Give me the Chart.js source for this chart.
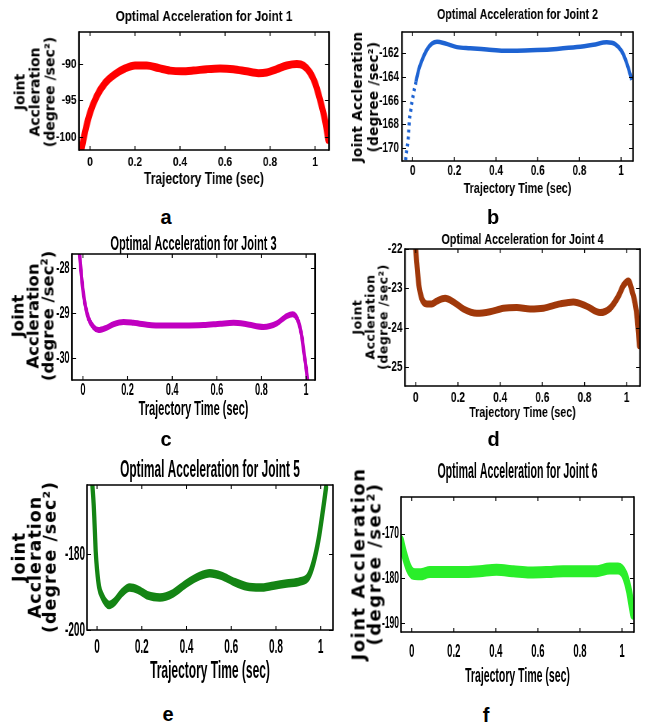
<!DOCTYPE html>
<html><head><meta charset="utf-8">
<script src="https://cdn.jsdelivr.net/npm/chart.js@4.4.1/dist/chart.umd.min.js"></script>
<style>
html,body{margin:0;padding:0;background:#fff;overflow:hidden;}
#page{position:relative;width:648px;height:727px;overflow:hidden;background:#fff;}
#page canvas{position:absolute;}
.lbl{position:absolute;font-family:"Liberation Sans",Arial,sans-serif;font-weight:bold;font-size:20px;line-height:20px;transform:translateX(-50%);color:#000;white-space:nowrap;}
.ytl{position:absolute;font-family:"DejaVu Sans",Verdana,sans-serif;font-weight:bold;color:#000;white-space:nowrap;text-align:center;transform:translate(-50%,-50%) rotate(-90deg);}
.ytl div{display:block;}
</style></head><body><div id="page"></div>
<script>
// ---------- data ----------
const tJ1 = [-0.037,-0.022,0,0.03,0.067,0.111,0.156,0.2,0.252,0.304,0.356,0.407,0.459,0.519,0.578,0.637,0.696,0.748,0.785,0.83,0.874,0.919,0.948,0.978,1.0,1.022,1.044,1.059];
const accJ1 = [-101.6,-99.3,-96.7,-94.4,-92.6,-91.4,-90.6,-90.2,-90.2,-90.55,-90.9,-91.0,-90.9,-90.7,-90.6,-90.7,-91.0,-91.25,-91.15,-90.7,-90.2,-90.0,-90.2,-91.2,-92.6,-94.9,-97.7,-100.4];

const tJ2 = [-0.034,-0.027,-0.022,-0.019,-0.014,-0.008,-0.003,0.003,0.010,0.016,0.029,0.045,0.069,0.093,0.117,0.157,0.212,0.276,0.356,0.436,0.5,0.596,0.692,0.788,0.867,0.931,0.971,1.003,1.027,1.051];
const accJ2 = [-171.0,-170.0,-169.3,-168.6,-167.4,-166.7,-166.1,-165.5,-164.9,-164.4,-163.4,-162.6,-161.7,-161.2,-161.05,-161.2,-161.5,-161.6,-161.7,-161.8,-161.8,-161.75,-161.65,-161.5,-161.3,-161.1,-161.25,-161.85,-162.85,-164.25];

const tJ3 = [-0.015,-0.009,-0.001,0.010,0.025,0.048,0.070,0.1,0.137,0.182,0.227,0.287,0.361,0.451,0.540,0.615,0.675,0.734,0.809,0.869,0.913,0.940,0.966,0.981,0.991,1.003,1.006];
const accJ3 = [-27.68,-28.04,-28.44,-28.81,-29.11,-29.31,-29.37,-29.33,-29.24,-29.19,-29.21,-29.25,-29.27,-29.27,-29.26,-29.23,-29.21,-29.24,-29.30,-29.22,-29.06,-29.02,-29.19,-29.52,-29.89,-30.33,-30.48];

const tJ4 = [0,0.005,0.009,0.016,0.028,0.052,0.076,0.1,0.139,0.179,0.226,0.289,0.352,0.415,0.479,0.542,0.605,0.684,0.747,0.810,0.873,0.921,0.960,0.984,1.008,1.025,1.039,1.050,1.057,1.060];
const accJ4 = [-22.03,-22.36,-22.62,-22.96,-23.25,-23.39,-23.39,-23.32,-23.25,-23.34,-23.52,-23.63,-23.59,-23.50,-23.48,-23.52,-23.50,-23.39,-23.34,-23.45,-23.61,-23.50,-23.20,-22.93,-22.81,-23.06,-23.36,-23.78,-24.25,-24.45];

const tJ5 = [-0.021,-0.015,-0.010,-0.006,0,0.009,0.024,0.040,0.054,0.079,0.109,0.146,0.184,0.228,0.281,0.340,0.4,0.460,0.504,0.557,0.609,0.669,0.728,0.788,0.848,0.907,0.945,0.967,0.990,1.009,1.024];
const accJ5 = [-161.7,-167.0,-173.6,-179.3,-184.1,-188.6,-191.2,-192.8,-193.4,-192.5,-190.3,-188.8,-189.4,-190.9,-191.4,-190.3,-187.7,-185.7,-185.0,-185.7,-187.2,-188.5,-188.8,-188.3,-187.7,-187.2,-185.9,-182.4,-176.2,-168.8,-162.4];

const tJ6 = [-0.051,-0.036,-0.016,0.008,0.040,0.087,0.166,0.245,0.324,0.403,0.483,0.562,0.641,0.720,0.799,0.878,0.941,0.981,1.013,1.033,1.044,1.052];
const accJ6 = [-171.6,-174.5,-177.5,-179.0,-179.1,-178.6,-178.6,-178.6,-178.4,-178.1,-178.4,-178.7,-178.6,-178.4,-178.4,-178.4,-177.8,-177.8,-179.3,-182.7,-185.7,-187.9];

const panelTitles = ['Optimal Acceleration for Joint 1','Optimal Acceleration for Joint 2','Optimal Acceleration for Joint 3','Optimal Acceleration for Joint 4','Optimal Acceleration for Joint 5','Optimal Acceleration for Joint 6'];
const panelLetters = ['a','b','c','d','e','f'];
const xAxisTitle = 'Trajectory Time (sec)';
const yTitle3 = ['Joint','Accleration','(degree /sec\u00B2)'];
const yTitle2 = ['Joint Accleration','(degree /sec\u00B2)'];

const NF = '"Liberation Sans", Arial, sans-serif';

// ---------- frame + inward ticks (drawn from the chart's own scales) ----------
const frameTicks = {
  id:'frameTicks',
  afterDatasetsDraw(chart, args, opts){
    const k = opts.k || 1;
    const {ctx, chartArea:a, scales:{x, y}} = chart;
    ctx.save();
    ctx.strokeStyle='#000';
    const L=4;
    ctx.lineWidth=1/k;
    ctx.beginPath();
    x.ticks.forEach(t=>{const px=x.getPixelForValue(t.value);
      ctx.moveTo(px,a.bottom);ctx.lineTo(px,a.bottom-L);ctx.moveTo(px,a.top);ctx.lineTo(px,a.top+L);});
    ctx.stroke();
    ctx.lineWidth=1;
    ctx.beginPath();
    y.ticks.forEach(t=>{const py=Math.round(y.getPixelForValue(t.value))+0.5;
      ctx.moveTo(a.left,py);ctx.lineTo(a.left+L/k,py);ctx.moveTo(a.right,py);ctx.lineTo(a.right-L/k,py);});
    ctx.stroke();
    ctx.lineWidth=1.6;
    ctx.beginPath();
    ctx.moveTo(a.left,a.top);ctx.lineTo(a.right,a.top);
    ctx.moveTo(a.left,a.bottom);ctx.lineTo(a.right,a.bottom);
    ctx.stroke();
    ctx.lineWidth=1.6/k;
    ctx.beginPath();
    ctx.moveTo(a.left,a.top-0.8);ctx.lineTo(a.left,a.bottom+0.8);
    ctx.moveTo(a.right,a.top-0.8);ctx.lineTo(a.right,a.bottom+0.8);
    ctx.stroke();
    ctx.restore();
  }
};

const page=document.getElementById('page');

function makePanel(p){
  const k=p.k;
  const [L,T,R,B]=p.box;
  const yW=L-p.cLeft, titleH=T-p.cTop, xH=p.cBottom-B;
  const Wcss=(R-L)+2*yW, H=p.cBottom-p.cTop;
  const Wb=Math.round(Wcss/k);
  const yWb=yW/k;
  const cv=document.createElement('canvas');
  cv.width=Wb; cv.height=H;
  cv.style.left=p.cLeft+'px'; cv.style.top=p.cTop+'px';
  cv.style.width=Wcss+'px'; cv.style.height=H+'px';
  page.appendChild(cv);
  const tfs=p.titleFs, tlh=tfs;
  const tPadTop=p.titleY-p.cTop-tlh/2, tPadBot=titleH-tPadTop-tlh;
  const kfs=p.tickFs, klh=kfs*1.2;
  const xTickPad=p.tickY-B-klh/2;
  const xtfs=p.xTitleFs, xtlh=xtfs*1.2;
  const xTitlePad=p.cBottom-p.xTitleY-xtlh/2;
  new Chart(cv,{
    type:'line',
    data:{datasets:[{
      data:p.t.map((x,i)=>({x:x,y:p.v[i]})),
      borderColor:p.color, borderWidth:p.lw, pointRadius:0,
      cubicInterpolationMode:'monotone', borderCapStyle:p.cap||'round', borderJoinStyle:'round',
      fill:false, segment:p.segment||{}
    }]},
    options:{
      responsive:false, animation:false, devicePixelRatio:1,
      layout:{padding:0},
      events:[],
      plugins:{
        legend:{display:false}, tooltip:{enabled:false},
        frameTicks:{k:k},
        title:{display:true,text:p.title,color:'#000',
          font:{family:NF,size:tfs,weight:'bold',lineHeight:1},
          padding:{top:tPadTop,bottom:tPadBot}}
      },
      scales:{
        x:{type:'linear',min:p.xMin,max:p.xMax,
          afterFit:s=>{s.height=xH;},
          grid:{display:false,drawTicks:false},border:{display:false},
          ticks:{stepSize:0.2,includeBounds:false,autoSkip:false,maxRotation:0,padding:xTickPad,color:'#000',
            font:{family:NF,size:kfs,weight:'bold',lineHeight:1.2},
            callback:v=>String(Math.round(v*10)/10)},
          title:{display:true,text:xAxisTitle,color:'#000',
            font:{family:NF,size:xtfs,weight:'bold',lineHeight:1.2},
            padding:{top:0,bottom:xTitlePad}}
        },
        y:{type:'linear',position:'left',min:p.yMin,max:p.yMax,
          afterFit:s=>{s.width=yWb;},
          grid:{display:false,drawTicks:false},border:{display:false},
          ticks:{stepSize:p.yStep,includeBounds:false,autoSkip:false,padding:p.yTickPad/k,color:'#000',
            font:{family:NF,size:p.yTickFs||kfs,weight:'bold'},
            callback:v=>String(Math.round(v))}
        },
        yR:{type:'linear',position:'right',min:0,max:1,
          afterFit:s=>{s.width=yWb;},
          grid:{display:false,drawTicks:false},border:{display:false},
          ticks:{display:false}}
      }
    },
    plugins:[frameTicks]
  });
  const yt=document.createElement('div');
  yt.className='ytl';
  yt.style.fontSize=p.yTitleFs+'px';
  yt.style.lineHeight=p.yTitleLH+'px';
  yt.style.letterSpacing=(p.yTitleLS||0)+'px';
  p.yTitle.forEach(s=>{const ln=document.createElement('div');ln.textContent=s;yt.appendChild(ln);});
  yt.style.left=(p.yTitleX+(p.yTitle.length-1)*p.yTitleLH/2)+'px';
  yt.style.top=p.yTitleCY+'px';
  page.appendChild(yt);
  const d=document.createElement('div');
  d.className='lbl'; d.textContent=p.letter;
  d.style.left=p.letterX+'px'; d.style.top=(p.letterBase-16.9)+'px';
  page.appendChild(d);
}

const panels=[
  {title:panelTitles[0],letter:panelLetters[0],t:tJ1,v:accJ1,color:'#FF0000',lw:8,k:0.76,
   box:[79,32,329,150],cLeft:0,cTop:0,cBottom:192,xMin:-0.049,xMax:1.062,yMin:-101.8,yMax:-85.6,yStep:5,
   titleY:17,titleFs:15.4,tickY:162,tickFs:13.5,yTickPad:2.5,xTitleY:180,xTitleFs:15.8,
   yTitle:yTitle3,yTitleX:20,yTitleLH:15,yTitleFs:14,yTitleCY:92,letterX:166,letterBase:224},
  {title:panelTitles[1],letter:panelLetters[1],t:tJ2,v:accJ2,color:'#1E63D2',lw:4.5,k:0.71,cap:'butt',
   segment:{borderDash:c=>c.p1DataIndex<=9?[3,4]:undefined},
   box:[402,32,633,161],cLeft:340,cTop:0,cBottom:200,xMin:-0.051,xMax:1.057,yMin:-171.07,yMax:-160.23,yStep:2,
   titleY:15,titleFs:15,tickY:171.5,tickFs:14,yTickPad:3,xTitleY:189,xTitleFs:15.2,
   yTitle:yTitle2,yTitleX:357,yTitleLH:16,yTitleFs:13.5,yTitleLS:0.3,yTitleCY:97,letterX:493,letterBase:224},
  {title:panelTitles[2],letter:panelLetters[2],t:tJ3,v:accJ3,color:'#C000C0',lw:6,k:0.57,
   box:[72,254,315,380],cLeft:0,cTop:222,cBottom:425,xMin:-0.049,xMax:1.040,yMin:-30.48,yMax:-27.68,yStep:1,
   titleY:245,titleFs:19.3,tickY:391,tickFs:16,yTickPad:2.5,xTitleY:410,xTitleFs:19.3,
   yTitle:yTitle3,yTitleX:18,yTitleLH:15,yTitleFs:16.5,yTitleCY:316,letterX:166,letterBase:446},
  {title:panelTitles[3],letter:panelLetters[3],t:tJ4,v:accJ4,color:'#A0380A',lw:7,k:0.72,
   box:[405,249,640,386],cLeft:340,cTop:228,cBottom:424,xMin:-0.051,xMax:1.063,yMin:-25.47,yMax:-22,yStep:1,
   titleY:240,titleFs:14.9,tickY:398,tickFs:14,yTickPad:2.5,xTitleY:412.7,xTitleFs:14.8,
   yTitle:yTitle3,yTitleX:357,yTitleLH:13,yTitleFs:12.5,yTitleLS:0.5,yTitleCY:317,letterX:493.5,letterBase:446},
  {title:panelTitles[4],letter:panelLetters[4],t:tJ5,v:accJ5,color:'#148414',lw:8.5,k:0.5,
   box:[87,485,333,630],cLeft:0,cTop:450,cBottom:688,xMin:-0.045,xMax:1.055,yMin:-200,yMax:-161.7,yStep:20,
   titleY:470,titleFs:23.8,tickY:647,tickFs:20,yTickPad:2,xTitleY:671.7,xTitleFs:24,
   yTitle:yTitle3,yTitleX:19.5,yTitleLH:15.5,yTitleFs:17.5,yTitleLS:1,yTitleCY:557,letterX:168,letterBase:720.7},
  {title:panelTitles[5],letter:panelLetters[5],t:tJ6,v:accJ6,color:'#2AEE2A',lw:12,k:0.5,
   box:[401,497,634,632],cLeft:340,cTop:450,cBottom:692,xMin:-0.051,xMax:1.057,yMin:-192,yMax:-161.8,yStep:10,
   titleY:471.7,titleFs:21.2,tickY:651.7,tickFs:19,yTickFs:17,yTickPad:2,xTitleY:676.7,xTitleFs:21,
   yTitle:yTitle2,yTitleX:358,yTitleLH:15.5,yTitleFs:18,yTitleLS:1.5,yTitleCY:564,letterX:486,letterBase:721.7}
];
panels.forEach(makePanel);
</script>
</body></html>
